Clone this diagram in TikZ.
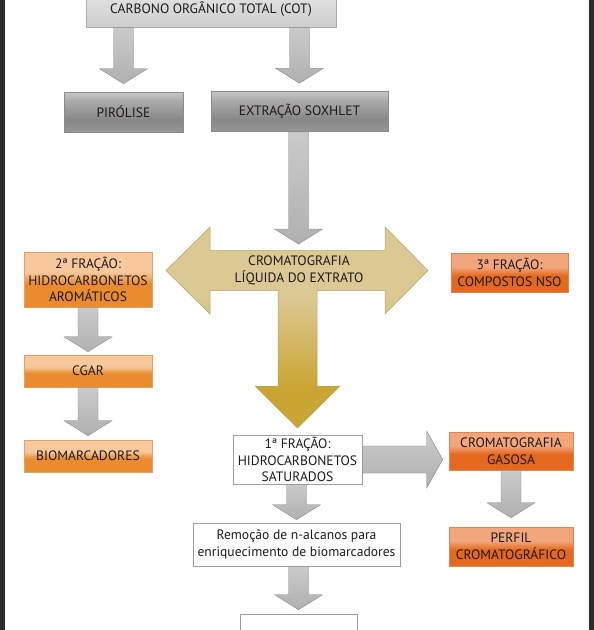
\documentclass[tikz,border=0pt]{standalone}
\usepackage{fontspec}
\setmainfont{PT Sans}
\usetikzlibrary{calc}

\definecolor{txt}{HTML}{1E1A1B}
\definecolor{edge}{HTML}{2B2B2B}
\definecolor{gT}{HTML}{C8C8C8}
\definecolor{gU}{HTML}{ACACAC}
\definecolor{gM}{HTML}{878787}
\definecolor{gB}{HTML}{979797}
\definecolor{gline}{HTML}{8A8A8A}
\definecolor{cotT}{HTML}{E4E4E4}
\definecolor{cotB}{HTML}{CDCDCD}
\definecolor{olT}{HTML}{F6C89C}
\definecolor{olB}{HTML}{EA8B2D}
\definecolor{olline}{HTML}{E4A062}
\definecolor{orT}{HTML}{F2A67C}
\definecolor{orB}{HTML}{E4691F}
\definecolor{orline}{HTML}{DE8650}
\definecolor{tanc}{HTML}{DBC892}
\definecolor{goldc}{HTML}{C9A531}
\definecolor{tanline}{HTML}{B9A466}
\definecolor{arT}{HTML}{CACACA}
\definecolor{arM}{HTML}{989898}
\definecolor{arB}{HTML}{B0B0B0}
\definecolor{wline}{HTML}{9E9E9E}

\pgfdeclareverticalshading{graybar}{100bp}{color(0bp)=(gB); color(25bp)=(gB); color(40bp)=(gM); color(65bp)=(gU); color(75bp)=(gT); color(100bp)=(gT)}
\pgfdeclareverticalshading{orleft}{100bp}{color(0bp)=(olB); color(25bp)=(olB); color(46bp)=(olB); color(57bp)=(olT); color(75bp)=(olT); color(100bp)=(olT)}
\pgfdeclareverticalshading{orright}{100bp}{color(0bp)=(orB); color(25bp)=(orB); color(46bp)=(orB); color(57bp)=(orT); color(75bp)=(orT); color(100bp)=(orT)}
\pgfdeclareverticalshading{crossshade}{100bp}{color(0bp)=(goldc); color(35bp)=(goldc); color(57bp)=(tanc); color(100bp)=(tanc)}

\tikzset{
  box/.style={align=center, inner sep=0pt, text=txt, line width=0.6pt,
    font=\fontsize{13.6}{16.5}\selectfont},
  graybox/.style={box, draw=gline, shading=graybar},
  cotbox/.style={box, draw=gline!70, top color=cotT, bottom color=cotB},
  leftbox/.style={box, draw=olline, shading=orleft, minimum width=128pt},
  rightbox/.style={box, draw=orline, shading=orright},
  whitebox/.style={box, draw=wline, fill=white},
  garrow/.style={draw=gline, line width=0.4pt, top color=arT, middle color=arM, bottom color=arB},
}

% block arrows between nodes: [gap]{from}{to}
\newcommand\blockdown[3][4]{%
  \shade[garrow] let \p1=(#2), \p2=(#3) in
    (\x2-10pt,\y1) -- (\x2+10pt,\y1) -- (\x2+10pt,\y2+#1pt+15pt) -- (\x2+24pt,\y2+#1pt+15pt)
    -- (\x2,\y2+#1pt) -- (\x2-24pt,\y2+#1pt+15pt) -- (\x2-10pt,\y2+#1pt+15pt) -- cycle;}
\newcommand\blockright[3][6]{%
  \shade[garrow] let \p1=(#2), \p2=(#3) in
    (\x1,\y1+13.5pt) -- (\x2-#1pt-16pt,\y1+13.5pt) -- (\x2-#1pt-16pt,\y1+28.5pt)
    -- (\x2-#1pt,\y1) -- (\x2-#1pt-16pt,\y1-28.5pt) -- (\x2-#1pt-16pt,\y1-13.5pt)
    -- (\x1,\y1-13.5pt) -- cycle;}

\begin{document}
\begin{tikzpicture}[x=1pt, y=-1pt]
\useasboundingbox (0,0) rectangle (594,630);
\fill[white] (0,0) rectangle (594,630);
\fill[edge] (0,0) rectangle (5,630);
\fill[edge] (589,0) rectangle (594,630);

% top row
\node[cotbox, minimum width=250pt, minimum height=36pt] (cot) at (211,9) {CARBONO ORGÂNICO TOTAL (COT)};
\node[graybox, minimum width=119pt, minimum height=40pt] (pir) at (123.5,112) {PIRÓLISE};
\node[graybox, minimum width=177pt, minimum height=40pt] (sox) at (299.5,111.5) {EXTRAÇÃO SOXHLET};

% liquid chromatography cross
\shade[draw=tanline, line width=0.5pt, shading=crossshade]
  (166,270.5) -- (210,227) -- (210,250.5) -- (385,250.5) -- (385,227) -- (428,270.5)
  -- (385,314) -- (385,290.5) -- (317,290.5) -- (317,386) -- (340,386) -- (297.5,428)
  -- (255,386) -- (278,386) -- (278,290.5) -- (210,290.5) -- (210,314) -- cycle;
\node[box] (clq) at (299,270.5) {CROMATOGRAFIA\\LÍQUIDA DO EXTRATO};
\coordinate (clqtop) at (298.5,244);

% fractions
\node[leftbox, minimum height=55pt] (frac2) at (88,279.5) {2ª FRAÇÃO:\\HIDROCARBONETOS\\AROMÁTICOS};
\node[leftbox, minimum height=32pt] (cgar) at (88,371) {CGAR};
\node[leftbox, minimum height=32pt] (bio) at (88,456) {BIOMARCADORES};
\node[rightbox, minimum width=117pt, minimum height=39pt] (frac3) at (509.5,272.5) {3ª FRAÇÃO:\\COMPOSTOS NSO};
\node[whitebox, minimum width=129pt, minimum height=49pt] (frac1) at (297.5,459.5) {1ª FRAÇÃO:\\HIDROCARBONETOS\\SATURADOS};
\node[rightbox, minimum width=124pt, minimum height=38pt] (cgas) at (511,451) {CROMATOGRAFIA\\GASOSA};
\node[rightbox, minimum width=124pt, minimum height=39pt] (perfil) at (511,546.5) {PERFIL\\CROMATOGRÁFICO};
\node[whitebox, minimum width=207pt, minimum height=43pt] (remo) at (296.5,544.5) {Remoção de n-alcanos para\\enriquecimento de biomarcadores};
\node[whitebox, minimum width=117pt, minimum height=30pt] (last) at (298.5,629) {};

% arrows
\blockdown[8]{cot.south}{pir.north}
\blockdown[8]{cot.south}{sox.north}
\blockdown[0]{sox.south}{clqtop}
\blockdown[3]{frac2.south}{cgar.north}
\blockdown[4]{cgar.south}{bio.north}
\blockdown[3]{frac1.south}{remo.north}
\blockdown[4]{remo.south}{last.north}
\blockdown[9]{cgas.south}{perfil.north}
\blockright{frac1.east}{cgas.west}
\end{tikzpicture}
\end{document}
